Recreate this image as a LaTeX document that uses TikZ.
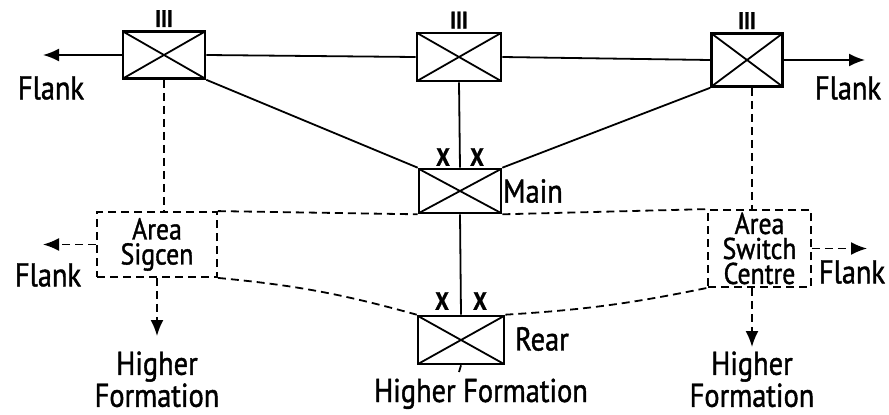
\documentclass[tikz,border=0pt]{standalone}
\usepackage{fontspec}
\setmainfont{PT Sans}
\newfontfamily\labfont[FakeStretch=0.86, FakeBold=1.2]{PT Sans}
\usetikzlibrary{arrows.meta}
\begin{document}
\begin{tikzpicture}[x=1pt,y=-1pt,
  hq/.style={draw, line width=2.6pt, rectangle, inner sep=0pt,
    path picture={\draw[line width=1.8pt] (path picture bounding box.north west) -- (path picture bounding box.south east)
      (path picture bounding box.south west) -- (path picture bounding box.north east);}},
  area/.style={draw, dashed, dash pattern=on 8pt off 5pt, line width=1.8pt, rectangle, inner sep=0pt, align=center,
    font=\labfont\fontsize{30}{25}\selectfont},
  conn/.style={line width=1.8pt},
  dconn/.style={line width=1.8pt, dash pattern=on 8pt off 5pt},
  arr/.style={-{Latex[length=16pt,width=13pt]}},
  lbl/.style={font=\labfont\fontsize{33}{32}\selectfont, inner sep=0pt, align=center},
  rank/.style={font=\labfont\bfseries\fontsize{24}{24}\selectfont, inner sep=0pt},
  xl/.style={font=\labfont\bfseries\fontsize{25}{25}\selectfont, inner sep=0pt}]
\useasboundingbox (0,0) rectangle (889,415);
% headquarters boxes
\node[hq, minimum width=82pt, minimum height=47pt] (b1) at (164,55) {};
\node[hq, minimum width=84pt, minimum height=48pt] (b2) at (459,57) {};
\node[hq, minimum width=71pt, minimum height=53pt] (b3) at (747,60) {};
\node[hq, minimum width=82pt, minimum height=44pt] (main) at (460,191) {};
\node[hq, minimum width=86pt, minimum height=48pt] (rear) at (461,340) {};
% rank marks
\node[rank, anchor=south] (r1) at ([yshift=3pt]b1.north) {III};
\node[rank, anchor=south] (r2) at ([yshift=3pt]b2.north) {III};
\node[rank, anchor=south] (r3) at ([yshift=3pt]b3.north) {III};
% X marks
\node[xl] (xm1) at (443,157) {X};
\node[xl] (xm2) at (477,157) {X};
\node[xl] (xr1) at (442,301) {X};
\node[xl] (xr2) at (480,301) {X};
% labels
\node[lbl] (mainl) at (533,191) {Main};
\node[lbl] (rearl) at (542,339) {Rear};
% area boxes
\node[area, minimum width=120pt, minimum height=65pt] (sig) at (157,244.5) {Area\\Sigcen};
\node[area, minimum width=103pt, minimum height=77pt] (asc) at (759.5,248.5) {Area\\Switch\\Centre};
% free ends
\coordinate (fl1) at (43,58);
\coordinate (fr1) at (865,60);
\coordinate (fl2) at (43,245);
\coordinate (fr2) at (867,250);
\coordinate (hs) at (157,336);
\coordinate (ha) at (752,347);
\coordinate (hr) at (459,372);
% flank labels
\node[lbl] (fll1) at (51,88) {Flank};
\node[lbl] (flr1) at (848,88) {Flank};
\node[lbl] (fll2) at (48,275) {Flank};
\node[lbl] (flr2) at (852,272) {Flank};
\node[lbl, text depth=0pt, anchor=south] (hfs) at (157,407) {Higher\\Formation};
\node[lbl, text depth=0pt, anchor=south] (hfa) at (752,407) {Higher\\Formation};
\node[lbl, anchor=base] (hfr) at (481,402) {Higher Formation};
% solid connectors
\draw[conn, arr] (b1.west) -- (b1.west -| fl1);
\draw[conn] (b1.east) -- (b2.west);
\draw[conn] (b2.east) -- (b3.west);
\draw[conn, arr] (b3.east) -- (b3.east -| fr1);
\draw[conn] (b1.south east) -- (main.north west);
\draw[conn] (b3.south west) -- (main.north east);
\draw[conn] (b2.south) -- (main.north);
\draw[conn] (main.south) -- (rear.north);
\draw[conn] (rear.south) -- (hr);
% dashed connectors
\draw[dconn] (b1.south) -- (b1.south |- sig.north);
\draw[dconn] ([xshift=5pt]b3.south) -- ([xshift=5pt]b3.south |- asc.north);
\draw[dconn] (sig.north east) -- (main.south west);
\draw[dconn] (main.south east) -- (asc.north west);
\draw[dconn] (sig.south east) to[bend left=5] (rear.north west);
\draw[dconn] (rear.north east) to[bend right=4] (asc.south west);
\draw[dconn, arr] (sig.west) -- (sig.west -| fl2);
\draw[dconn, arr] (asc.east) -- (asc.east -| fr2);
\draw[dconn, arr] (sig.south) -- (hs);
\draw[dconn, arr] (asc.south -| ha) -- (ha);
\end{tikzpicture}
\end{document}
